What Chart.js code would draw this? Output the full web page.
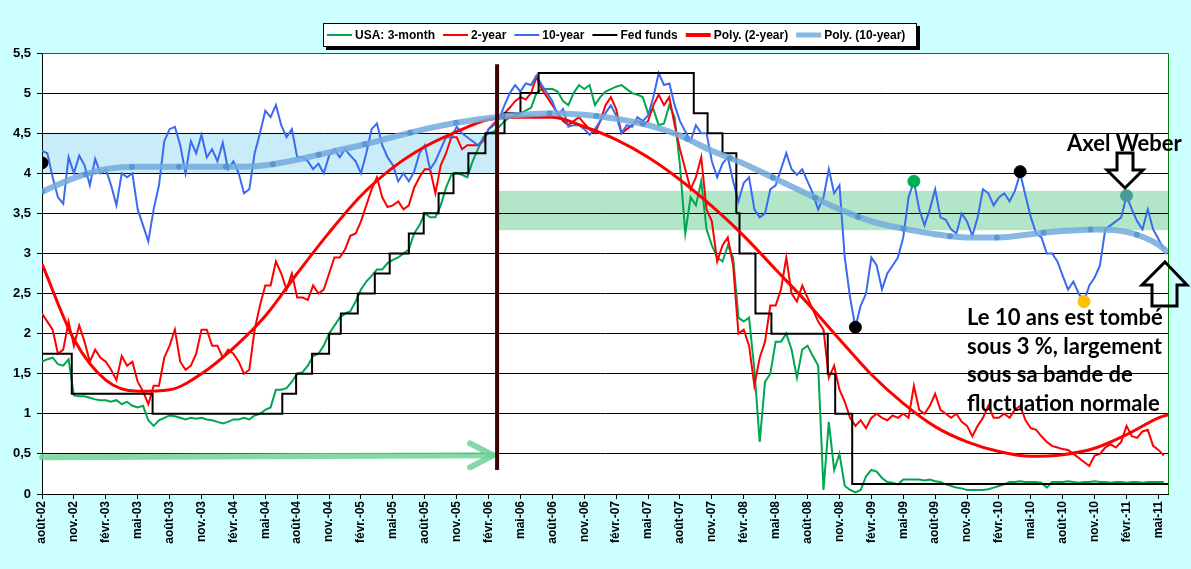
<!DOCTYPE html>
<html>
<head>
<meta charset="utf-8">
<script src="https://cdn.jsdelivr.net/npm/chart.js@4.4.1/dist/chart.umd.min.js"></script>
<style>
html, body { margin: 0; padding: 0; background: #ccffff; }
canvas { display: block; }
</style>
</head>
<body>
<canvas id="rates" width="1191" height="569"></canvas>
<script>
// axis labels, every 3 months from Aug 2002
const tickLabels = [
  'août-02', 'nov.-02', 'févr.-03', 'mai-03', 'août-03', 'nov.-03', 'févr.-04', 'mai-04', 'août-04',
  'nov.-04', 'févr.-05', 'mai-05', 'août-05', 'nov.-05', 'févr.-06', 'mai-06', 'août-06', 'nov.-06',
  'févr.-07', 'mai-07', 'août-07', 'nov.-07', 'févr.-08', 'mai-08', 'août-08', 'nov.-08', 'févr.-09',
  'mai-09', 'août-09', 'nov.-09', 'févr.-10', 'mai-10', 'août-10', 'nov.-10', 'févr.-11', 'mai-11'
];

// rates read every half month, starting Aug 2002
const tenYear = [
  4.28, 4.25, 3.95, 3.7, 3.62, 4.2, 4.0, 4.22, 4.1, 3.85,
  4.18, 4.0, 4.05, 3.85, 3.6, 4.0, 3.95, 4.0, 3.55, 3.35,
  3.15, 3.55, 3.85, 4.4, 4.55, 4.58, 4.35, 4.0, 4.4, 4.25,
  4.48, 4.2, 4.3, 4.15, 4.38, 4.05, 4.15, 4.0, 3.75, 3.8,
  4.25, 4.5, 4.78, 4.7, 4.85, 4.6, 4.45, 4.55, 4.2, 4.2,
  4.15, 4.05, 4.12, 4.0, 4.22, 4.3, 4.2, 4.3, 4.22, 4.15,
  4.0, 4.25, 4.55, 4.62, 4.35, 4.2, 4.1, 3.9, 4.0, 3.9,
  4.02, 4.25, 4.35, 4.05, 4.15, 4.3, 4.45, 4.45, 4.58, 4.5,
  4.45, 4.4, 4.35, 4.42, 4.55, 4.6, 4.68, 4.85, 5.0, 5.1,
  5.02, 5.12, 5.1, 5.22, 5.1, 5.0, 4.9, 4.72, 4.8, 4.58,
  4.6, 4.6, 4.55, 4.48, 4.55, 4.65, 4.75, 4.85, 4.72, 4.5,
  4.6, 4.58, 4.7, 4.65, 4.72, 4.95, 5.25, 5.1, 5.12, 4.85,
  4.65, 4.52, 4.4, 4.6, 4.5, 4.5, 4.15, 3.95, 4.12, 4.2,
  3.9, 3.65, 3.88, 3.95, 3.55, 3.45, 3.5, 3.8, 3.85, 4.05,
  4.25, 4.05, 3.98, 4.05, 3.9, 3.75, 3.55, 3.7, 4.05, 3.75,
  3.85, 2.95, 2.45, 2.08, 2.35, 2.5, 2.95, 2.85, 2.55, 2.75,
  2.85, 2.95, 3.2, 3.7, 3.9, 3.55, 3.35, 3.55, 3.8, 3.45,
  3.42, 3.3, 3.25, 3.5, 3.4, 3.22, 3.45, 3.8, 3.75, 3.6,
  3.7, 3.75, 3.65, 3.78, 4.0, 3.72, 3.45, 3.25, 3.2, 3.0,
  3.0, 2.9, 2.72, 2.55, 2.65, 2.5, 2.4, 2.6, 2.7, 2.85,
  3.3, 3.35, 3.4, 3.45, 3.72, 3.55, 3.4, 3.3, 3.55, 3.3,
  3.18, 3.05
];

const twoYear = [
  2.25, 2.15, 2.05, 1.75, 1.8, 2.15, 1.85, 2.1, 1.9, 1.65,
  1.8, 1.7, 1.65, 1.55, 1.42, 1.72, 1.6, 1.65, 1.4, 1.28,
  1.12, 1.35, 1.35, 1.7, 1.85, 2.05, 1.65, 1.55, 1.6, 1.75,
  2.05, 2.05, 1.85, 1.85, 1.7, 1.8, 1.75, 1.65, 1.5, 1.55,
  2.05, 2.35, 2.6, 2.6, 2.9, 2.75, 2.55, 2.75, 2.45, 2.45,
  2.42, 2.6, 2.5, 2.55, 2.75, 2.95, 2.95, 3.05, 3.22, 3.25,
  3.4, 3.6, 3.8, 3.95, 3.7, 3.58, 3.6, 3.65, 3.55, 3.6,
  3.82, 3.95, 4.05, 4.05, 3.75, 4.1, 4.25, 4.45, 4.45, 4.3,
  4.35, 4.35, 4.35, 4.4, 4.55, 4.62, 4.7, 4.75, 4.82, 4.9,
  4.95, 4.92, 5.0, 5.2, 5.05, 4.95, 4.85, 4.75, 4.65, 4.6,
  4.65, 4.7, 4.62, 4.55, 4.5, 4.65, 4.85, 4.95, 4.8, 4.5,
  4.55, 4.6, 4.65, 4.6, 4.65, 4.85, 4.98, 4.85, 4.95, 4.6,
  4.3, 4.05, 3.8, 3.95, 4.2, 3.55, 3.4, 2.9, 3.1, 3.2,
  2.85, 2.0, 2.05, 1.85, 1.35, 1.7, 1.9, 2.35, 2.35, 2.55,
  2.95, 2.5, 2.4, 2.6, 2.45, 2.3, 2.15, 2.05, 1.45, 1.6,
  1.3, 1.15, 0.95, 0.85, 0.92, 0.82, 0.95, 1.0, 0.95, 0.92,
  0.98, 0.95, 1.0, 0.95, 1.35, 1.05, 1.0, 1.1, 1.25, 1.05,
  1.0, 0.95, 1.0, 0.9, 0.85, 0.72, 0.85, 0.95, 1.1, 0.95,
  0.95, 1.0, 0.95, 1.05, 1.1, 0.92, 0.82, 0.8, 0.72, 0.65,
  0.6, 0.58, 0.56, 0.55, 0.5, 0.45, 0.4, 0.35, 0.48, 0.5,
  0.58, 0.62, 0.58, 0.65, 0.85, 0.72, 0.7, 0.78, 0.8, 0.6,
  0.55, 0.48
];

const threeMonth = [
  1.65, 1.68, 1.7, 1.62, 1.6, 1.68, 1.23, 1.22, 1.22, 1.2,
  1.18, 1.17, 1.17, 1.15, 1.17, 1.12, 1.15, 1.1, 1.08, 1.1,
  0.92, 0.85, 0.92, 0.95, 0.98, 0.97, 0.95, 0.93, 0.95, 0.94,
  0.95, 0.93, 0.92, 0.9, 0.88, 0.9, 0.93, 0.93, 0.95, 0.93,
  0.98, 1.0, 1.05, 1.08, 1.3, 1.3, 1.32, 1.4, 1.5, 1.52,
  1.6, 1.72, 1.75, 1.85, 2.0, 2.1, 2.2, 2.25, 2.28, 2.4,
  2.55, 2.65, 2.72, 2.8, 2.8, 2.88, 2.92, 2.95, 3.0, 3.05,
  3.25, 3.35, 3.5, 3.45, 3.45, 3.6, 3.82, 3.98, 4.0, 3.98,
  3.95, 4.15, 4.3, 4.45, 4.5, 4.52, 4.58, 4.65, 4.7, 4.72,
  4.75, 4.78, 4.82, 5.0, 5.05, 5.05, 5.05, 5.02, 4.9, 4.85,
  5.0, 5.1, 5.05, 5.1, 4.85, 4.95, 5.02, 5.05, 5.08, 5.1,
  5.05, 5.0, 4.98, 4.95, 4.75, 4.8, 4.6, 4.62, 4.85, 4.7,
  4.1, 3.25, 3.7, 3.6, 3.9, 3.3, 3.1, 2.95, 2.9, 3.1,
  2.95, 2.2, 2.15, 2.2, 1.55, 0.65, 1.4, 1.5, 1.9, 1.9,
  2.0, 1.8, 1.45, 1.8, 1.85, 1.72, 1.6, 0.05, 0.9, 0.3,
  0.5, 0.1, 0.05, 0.02, 0.05, 0.22, 0.3, 0.28, 0.2, 0.15,
  0.14, 0.12, 0.18, 0.18, 0.18, 0.18, 0.17, 0.18, 0.16, 0.15,
  0.12, 0.1, 0.08, 0.07, 0.05, 0.05, 0.05, 0.05, 0.06, 0.08,
  0.1, 0.12, 0.15, 0.15, 0.16, 0.15, 0.15, 0.15, 0.14, 0.08,
  0.15, 0.15, 0.15, 0.16, 0.15, 0.14, 0.15, 0.15, 0.16, 0.15,
  0.15, 0.14, 0.15, 0.15, 0.14, 0.15, 0.15, 0.14, 0.15, 0.15,
  0.15, 0.15
];

// fed funds target: month of each change and the new level
const fedMonths = [0, 2.8, 10.4, 22.6, 23.9, 25.4, 27.0, 28.1, 29.7, 31.3, 32.7, 34.5, 35.9, 37.3, 38.7,
  40.1, 41.7, 43.5, 45.0, 46.7, 61.3, 62.6, 64.0, 65.3, 65.6, 67.1, 68.6, 73.9, 74.6, 76.2, 105.9];
const fedFunds = [1.75, 1.25, 1.0, 1.25, 1.5, 1.75, 2.0, 2.25, 2.5, 2.75, 3.0, 3.25, 3.5, 3.75, 4.0,
  4.25, 4.5, 4.75, 5.0, 5.25, 4.75, 4.5, 4.25, 3.5, 3.0, 2.25, 2.0, 1.5, 1.0, 0.125, 0.125];

// trend curves read every 3 months
const polyMonths = [0, 3, 6, 9, 12, 15, 18, 21, 24, 27, 30, 33, 36, 39, 42, 45, 48, 51, 54, 57, 60,
  63, 66, 69, 72, 75, 78, 81, 84, 87, 90, 93, 96, 99, 102, 105, 105.9];
const polyTwo = [2.87, 1.93, 1.42, 1.28, 1.3, 1.5, 1.82, 2.22, 2.75, 3.26, 3.72, 4.07, 4.33, 4.52, 4.67,
  4.7, 4.7, 4.58, 4.42, 4.2, 3.92, 3.59, 3.22, 2.8, 2.38, 1.93, 1.49, 1.13, 0.84, 0.65, 0.53, 0.47,
  0.49, 0.57, 0.74, 0.95, 0.99];
const polyTen = [3.77, 3.94, 4.05, 4.08, 4.08, 4.08, 4.08, 4.1, 4.17, 4.26, 4.35, 4.45, 4.55, 4.63,
  4.69, 4.73, 4.75, 4.73, 4.68, 4.6, 4.47, 4.28, 4.12, 3.93, 3.74, 3.55, 3.4, 3.31, 3.24, 3.2, 3.2,
  3.24, 3.28, 3.3, 3.27, 3.11, 3.01];

// highlighted points on the 10-year
const dotMonths = [0, 76.5, 82, 92, 98, 102];
const dotValues = [4.13, 2.08, 3.9, 4.02, 2.4, 3.72];
const dotColors = ['#000000', '#000000', '#00b050', '#000000', '#ffc000', '#4a9a9a'];

// fluctuation bands (from, to in months; low, high in %)
const bandFrom = [0, 42.8];
const bandTo = [42.8, 105.9];
const bandLow = [4.0, 3.29];
const bandHigh = [4.5, 3.78];
const bandColors = ['#c9ecf8', '#b3e6c8'];

const changeMonth = 42.8;   // Bernanke takes over
const arrowLevel = 0.47;

const halfMonth = i => i * 0.5;
const toPoints = arr => arr.map((v, i) => ({ x: halfMonth(i), y: v }));
const pairPoints = (xs, ys) => xs.map((x, i) => ({ x: x, y: ys[i] }));

const axisFont = 'Arial, "Liberation Sans", sans-serif';
const noteFont = 'Lato, "Open Sans", sans-serif';

const legendItems = [
  { text: 'USA: 3-month', color: '#00a550', width: 2 },
  { text: '2-year', color: '#ff0000', width: 2 },
  { text: '10-year', color: '#3a6af0', width: 2 },
  { text: 'Fed funds', color: '#000000', width: 2 },
  { text: 'Poly. (2-year)', color: '#ff0000', width: 4 },
  { text: 'Poly. (10-year)', color: '#86b8e2', width: 5 }
];

const decorations = {
  id: 'decorations',
  beforeDraw(chart) {
    const { ctx, chartArea: a, scales: { x, y } } = chart;
    ctx.save();
    ctx.fillStyle = '#ffffff';
    ctx.fillRect(a.left, a.top, a.right - a.left, a.bottom - a.top);
    for (let i = 0; i < bandFrom.length; i++) {
      const x0 = x.getPixelForValue(bandFrom[i]);
      const x1 = x.getPixelForValue(bandTo[i]);
      const y0 = y.getPixelForValue(bandHigh[i]);
      const y1 = y.getPixelForValue(bandLow[i]);
      ctx.fillStyle = bandColors[i];
      ctx.fillRect(x0, y0, x1 - x0, y1 - y0);
    }
    ctx.restore();
  },
  afterDatasetsDraw(chart) {
    const { ctx, scales: { x, y } } = chart;
    const xc = x.getPixelForValue(changeMonth);
    ctx.save();
    // green arrow
    const ya = y.getPixelForValue(arrowLevel);
    ctx.strokeStyle = 'rgba(110, 210, 150, 0.85)';
    ctx.lineWidth = 6;
    ctx.lineCap = 'round';
    ctx.beginPath();
    ctx.moveTo(x.getPixelForValue(0), ya + 1);
    ctx.lineTo(xc - 4, ya - 1);
    ctx.stroke();
    ctx.beginPath();
    ctx.moveTo(xc - 27, ya - 13);
    ctx.lineTo(xc - 4, ya - 1);
    ctx.lineTo(xc - 27, ya + 11);
    ctx.stroke();
    // vertical change line
    ctx.strokeStyle = '#3a0505';
    ctx.lineWidth = 4;
    ctx.lineCap = 'butt';
    ctx.beginPath();
    ctx.moveTo(xc, y.getPixelForValue(5.36));
    ctx.lineTo(xc, y.getPixelForValue(0.3));
    ctx.stroke();
    ctx.restore();
  },
  afterDraw(chart) {
    const { ctx, chartArea: a } = chart;
    ctx.save();
    // plot frame
    ctx.lineWidth = 1;
    ctx.strokeStyle = '#008000';
    ctx.beginPath();
    ctx.moveTo(a.left, a.top + 0.5);
    ctx.lineTo(a.right + 0.5, a.top + 0.5);
    ctx.lineTo(a.right + 0.5, a.bottom);
    ctx.stroke();

    // legend
    ctx.fillStyle = '#000';
    ctx.fillRect(326, 26, 594, 24);
    ctx.fillStyle = '#fff';
    ctx.fillRect(323, 23, 594, 24);
    ctx.strokeStyle = '#000';
    ctx.strokeRect(323.5, 23.5, 593, 23);
    ctx.font = 'bold 12px ' + axisFont;
    ctx.textBaseline = 'middle';
    let lx = 327;
    legendItems.forEach(item => {
      ctx.strokeStyle = item.color;
      ctx.lineWidth = item.width;
      ctx.beginPath();
      ctx.moveTo(lx, 35);
      ctx.lineTo(lx + 25, 35);
      ctx.stroke();
      ctx.fillStyle = '#000';
      ctx.fillText(item.text, lx + 28, 35.5);
      lx += 28 + ctx.measureText(item.text).width + 8;
    });

    // notes
    ctx.fillStyle = '#000';
    ctx.textBaseline = 'middle';
    ctx.font = 'bold 22px ' + noteFont;
    ctx.fillText('Axel Weber', 1067, 144);
    const lines = ['Le 10 ans est tombé', 'sous 3 %, largement', 'sous sa bande de', 'fluctuation normale'];
    lines.forEach((t, i) => ctx.fillText(t, 967, 318 + i * 28.7));

    ctx.lineWidth = 3;
    ctx.strokeStyle = '#000';
    ctx.lineJoin = 'miter';
    // down arrow
    ctx.beginPath();
    ctx.moveTo(1117, 153); ctx.lineTo(1133, 153); ctx.lineTo(1133, 170); ctx.lineTo(1143, 170);
    ctx.lineTo(1125, 188); ctx.lineTo(1107, 170); ctx.lineTo(1117, 170); ctx.closePath();
    ctx.fillStyle = '#fff';
    ctx.fill();
    ctx.stroke();
    // up arrow
    ctx.beginPath();
    ctx.moveTo(1165, 262); ctx.lineTo(1187, 285); ctx.lineTo(1177, 285); ctx.lineTo(1177, 306);
    ctx.lineTo(1152, 306); ctx.lineTo(1152, 285); ctx.lineTo(1142, 285); ctx.closePath();
    ctx.stroke();
    ctx.restore();
  }
};

new Chart(document.getElementById('rates'), {
  type: 'line',
  data: {
    datasets: [
      {
        label: 'dots', type: 'scatter', data: pairPoints(dotMonths, dotValues), order: -2,
        pointRadius: 6, pointBackgroundColor: dotColors, pointBorderColor: dotColors, showLine: false
      },
      {
        label: 'Poly. (10-year) beads', data: pairPoints(polyMonths, polyTen), order: -1,
        borderColor: 'rgba(70, 140, 205, 0.7)', borderWidth: 6, borderDash: [0, 47],
        borderCapStyle: 'round', cubicInterpolationMode: 'monotone'
      },
      {
        label: 'Poly. (10-year)', data: pairPoints(polyMonths, polyTen), order: 0,
        borderColor: 'rgba(115, 170, 220, 0.85)', borderWidth: 6, cubicInterpolationMode: 'monotone'
      },
      {
        label: 'Poly. (2-year)', data: pairPoints(polyMonths, polyTwo), order: 1,
        borderColor: '#ff0000', borderWidth: 3, cubicInterpolationMode: 'monotone'
      },
      {
        label: 'Fed funds', data: pairPoints(fedMonths, fedFunds), order: 2,
        borderColor: '#000000', borderWidth: 2, stepped: true
      },
      {
        label: '10-year', data: toPoints(tenYear), order: 3,
        borderColor: '#3a6af0', borderWidth: 2
      },
      {
        label: '2-year', data: toPoints(twoYear), order: 4,
        borderColor: '#ff0000', borderWidth: 2
      },
      {
        label: 'USA: 3-month', data: toPoints(threeMonth), order: 5,
        borderColor: '#00a550', borderWidth: 2
      }
    ]
  },
  options: {
    responsive: false,
    animation: false,
    layout: { padding: { left: 0, top: 53, right: 23, bottom: 0 } },
    elements: { point: { radius: 0 }, line: { tension: 0 } },
    plugins: { legend: { display: false }, tooltip: { enabled: false } },
    scales: {
      x: {
        type: 'linear',
        min: 0,
        max: 105.9,
        afterBuildTicks: s => { s.ticks = tickLabels.map((t, i) => ({ value: i * 3 })); },
        afterFit: s => { s.height = 75; },
        grid: { drawOnChartArea: false, color: '#000', tickLength: 5 },
        border: { color: '#000' },
        ticks: {
          autoSkip: false, minRotation: 90, maxRotation: 90, padding: 2, color: '#000',
          font: { family: axisFont, size: 12, weight: 'bold' },
          callback: v => tickLabels[Math.round(v / 3)]
        }
      },
      y: {
        min: 0,
        max: 5.5,
        afterFit: s => { s.width = 42; },
        grid: { color: '#000', tickLength: 5 },
        border: { color: '#000' },
        ticks: {
          stepSize: 0.5, padding: 6, color: '#000',
          font: { family: axisFont, size: 13, weight: 'bold' },
          callback: v => String(v).replace('.', ',')
        }
      }
    }
  },
  plugins: [decorations]
});
</script>
</body>
</html>
